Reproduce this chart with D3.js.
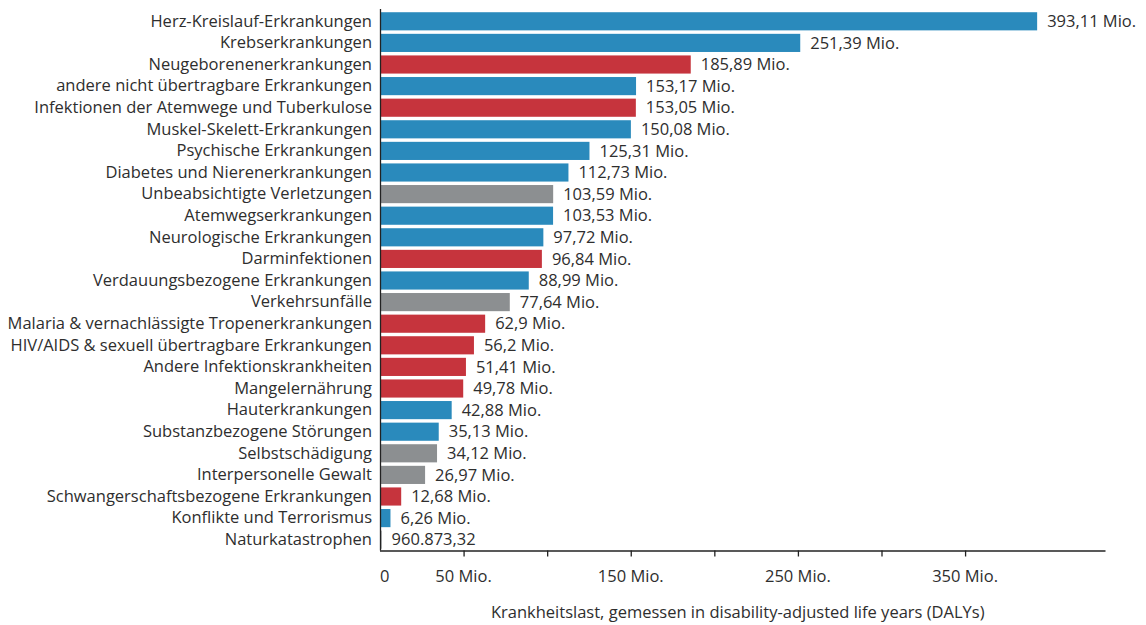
<!DOCTYPE html>
<html>
<head>
<meta charset="utf-8">
<script src="https://cdn.jsdelivr.net/npm/d3@7"></script>
<style>
    body { margin: 0; background: #fff; }
    svg text { font-family: "Open Sans", sans-serif; fill: #2e2e2e; }
</style>
</head>
<body>
<div id="chart"></div>
<script>
var categories = [
    'Herz-Kreislauf-Erkrankungen',
    'Krebserkrankungen',
    'Neugeborenenerkrankungen',
    'andere nicht übertragbare Erkrankungen',
    'Infektionen der Atemwege und Tuberkulose',
    'Muskel-Skelett-Erkrankungen',
    'Psychische Erkrankungen',
    'Diabetes und Nierenerkrankungen',
    'Unbeabsichtigte Verletzungen',
    'Atemwegserkrankungen',
    'Neurologische Erkrankungen',
    'Darminfektionen',
    'Verdauungsbezogene Erkrankungen',
    'Verkehrsunfälle',
    'Malaria & vernachlässigte Tropenerkrankungen',
    'HIV/AIDS & sexuell übertragbare Erkrankungen',
    'Andere Infektionskrankheiten',
    'Mangelernährung',
    'Hauterkrankungen',
    'Substanzbezogene Störungen',
    'Selbstschädigung',
    'Interpersonelle Gewalt',
    'Schwangerschaftsbezogene Erkrankungen',
    'Konflikte und Terrorismus',
    'Naturkatastrophen'
];

// Mio. DALYs
var values = [393.11, 251.39, 185.89, 153.17, 153.05, 150.08, 125.31, 112.73, 103.59, 103.53,
    97.72, 96.84, 88.99, 77.64, 62.9, 56.2, 51.41, 49.78, 42.88, 35.13,
    34.12, 26.97, 12.68, 6.26, 0.96087332];

var valueLabels = ['393,11 Mio.', '251,39 Mio.', '185,89 Mio.', '153,17 Mio.', '153,05 Mio.',
    '150,08 Mio.', '125,31 Mio.', '112,73 Mio.', '103,59 Mio.', '103,53 Mio.',
    '97,72 Mio.', '96,84 Mio.', '88,99 Mio.', '77,64 Mio.', '62,9 Mio.',
    '56,2 Mio.', '51,41 Mio.', '49,78 Mio.', '42,88 Mio.', '35,13 Mio.',
    '34,12 Mio.', '26,97 Mio.', '12,68 Mio.', '6,26 Mio.', '960.873,32'];

// n = nicht übertragbar, i = Infektion/Mutter-Kind, v = Verletzung
var groups = ['n', 'n', 'i', 'n', 'i', 'n', 'n', 'n', 'v', 'n',
    'n', 'i', 'n', 'v', 'i', 'i', 'i', 'i', 'n', 'n',
    'v', 'v', 'i', 'n', 'v'];

var tickValues = [50, 100, 150, 200, 250, 300, 350];
var tickLabels = {0: '0', 50: '50 Mio.', 150: '150 Mio.', 250: '250 Mio.', 350: '350 Mio.'};
var axisTitle = 'Krankheitslast, gemessen in disability-adjusted life years (DALYs)';

var colors = {n: '#2a8abc', i: '#c6343d', v: '#8c8f91'};

var chartW = 1146, chartH = 625;
var m = {left: 380, right: 1105.5, top: 10.5, bottom: 550.5};
var fs = '16.5px';

var svg = d3.select('#chart')
    .append('svg')
    .attr('width', chartW)
    .attr('height', chartH);

var x = d3.scaleLinear().domain([0, 434]).range([m.left, m.right]);
var y = d3.scaleBand().domain(categories).range([m.top, m.bottom]).paddingInner(0.16).paddingOuter(0.08);

var rows = categories.map(function (c, i) {
    return {name: c, value: values[i], label: valueLabels[i], group: groups[i]};
});

svg.selectAll('rect.bar')
    .data(rows)
    .enter()
    .append('rect')
    .attr('class', 'bar')
    .attr('x', x(0))
    .attr('y', function (d) { return y(d.name); })
    .attr('width', function (d) { return x(d.value) - x(0); })
    .attr('height', y.bandwidth())
    .attr('fill', function (d) { return colors[d.group]; });

svg.selectAll('text.val')
    .data(rows)
    .enter()
    .append('text')
    .attr('class', 'val')
    .attr('x', function (d) { return x(d.value) + 10; })
    .attr('y', function (d) { return y(d.name) + y.bandwidth() / 2; })
    .attr('dy', '0.35em')
    .style('font-size', fs)
    .text(function (d) { return d.label; });

// Y axis (category labels)
var yAxis = svg.append('g')
    .attr('transform', 'translate(' + m.left + ',0)')
    .call(d3.axisLeft(y).tickSize(0).tickPadding(8));
yAxis.select('.domain').attr('d', 'M0.5,9V' + m.bottom).attr('stroke', '#222').attr('stroke-width', 1.3);
yAxis.selectAll('text').style('font-size', fs).attr('fill', '#2e2e2e').style('font-family', '"Open Sans", sans-serif');

// X axis
var xAxis = svg.append('g')
    .attr('transform', 'translate(0,' + m.bottom + ')')
    .call(d3.axisBottom(x).tickValues(tickValues).tickSize(6).tickFormat(''));
xAxis.select('.domain').attr('d', 'M' + m.left + ',0.5H' + m.right).attr('stroke', '#222').attr('stroke-width', 1.3);
xAxis.selectAll('.tick line').attr('stroke', '#222').attr('stroke-width', 1.3);

svg.append('g')
    .selectAll('text')
    .data(Object.keys(tickLabels).map(Number))
    .enter()
    .append('text')
    .attr('x', function (d) { return x(d); })
    .attr('y', m.bottom + 26)
    .attr('dy', '0.35em')
    .style('text-anchor', function (d) { return d === 0 ? 'start' : 'middle'; })
    .style('font-size', fs)
    .text(function (d) { return tickLabels[d]; });

svg.append('text')
    .attr('x', (m.left + m.right) / 2 - 5)
    .attr('y', m.bottom + 62)
    .attr('dy', '0.35em')
    .style('text-anchor', 'middle')
    .style('font-size', fs)
    .text(axisTitle);
</script>
</body>
</html>
